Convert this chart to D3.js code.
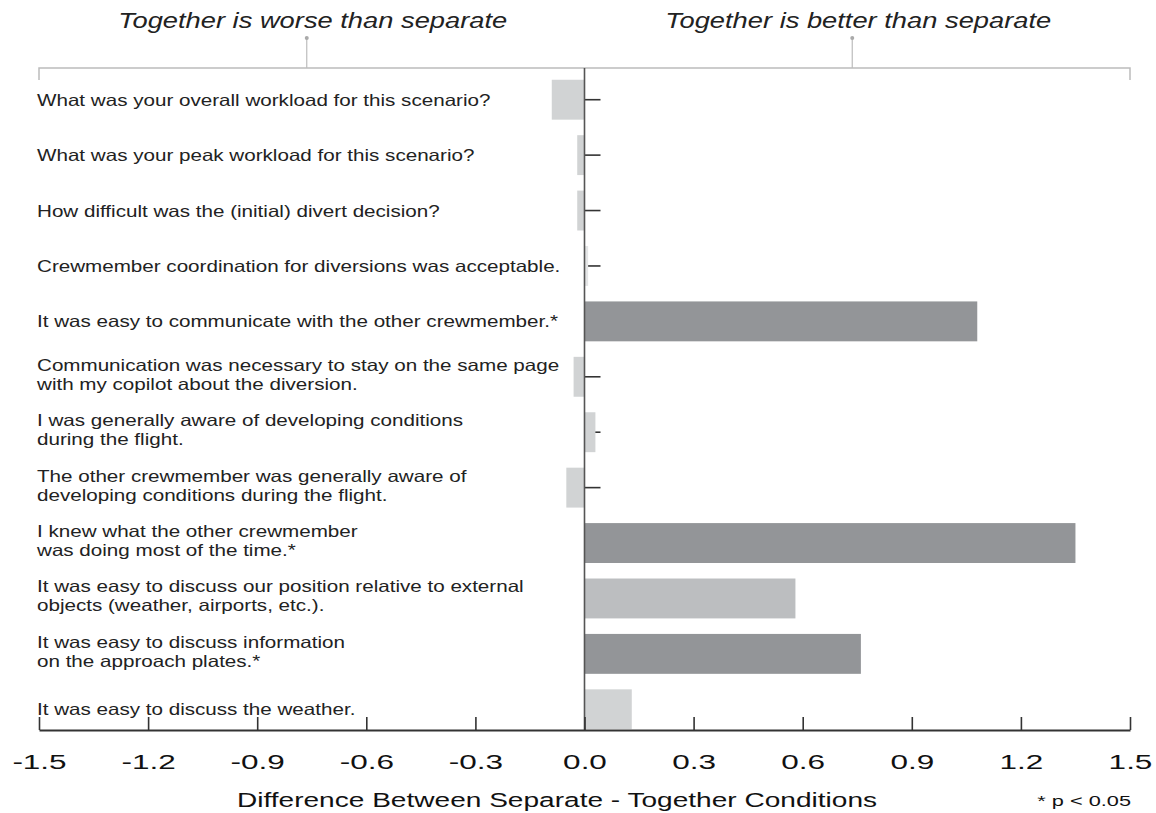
<!DOCTYPE html>
<html>
<head>
<meta charset="utf-8">
<script src="https://cdn.jsdelivr.net/npm/d3@7"></script>
<style>
  body { margin: 0; background: #fff; }
  text { font-family: "Liberation Sans", Arial, Helvetica, sans-serif; }
</style>
</head>
<body>
<div id="container"></div>
<script>
// questions, one per row (lines split where the chart wraps them)
let questions = [
    ['What was your overall workload for this scenario?'],
    ['What was your peak workload for this scenario?'],
    ['How difficult was the (initial) divert decision?'],
    ['Crewmember coordination for diversions was acceptable.'],
    ['It was easy to communicate with the other crewmember.*'],
    ['Communication was necessary to stay on the same page', 'with my copilot about the diversion.'],
    ['I was generally aware of developing conditions', 'during the flight.'],
    ['The other crewmember was generally aware of', 'developing conditions during the flight.'],
    ['I knew what the other crewmember', 'was doing most of the time.*'],
    ['It was easy to discuss our position relative to external', 'objects (weather, airports, etc.).'],
    ['It was easy to discuss information', 'on the approach plates.*'],
    ['It was easy to discuss the weather.']
];
let diffs = [-0.09, -0.02, -0.02, 0.01, 1.08, -0.03, 0.03, -0.05, 1.35, 0.58, 0.76, 0.13];
let significance = ['ns', 'ns', 'ns', 'faint', 'sig', 'ns', 'ns', 'ns', 'sig', 'marginal', 'sig', 'ns'];
let xTicks = [-1.5, -1.2, -0.9, -0.6, -0.3, 0.0, 0.3, 0.6, 0.9, 1.2, 1.5];
let sideLabels = ['Together is worse than separate', 'Together is better than separate'];

const width = 1156, height = 813;
const left = 39, right = 1130, bracketY = 68, axisY = 730;
const stretch = 1.25; // the original picture is drawn wide

const svg = d3.select('#container').append('svg').attr('width', width).attr('height', height);

const x = d3.scaleLinear().domain([-1.5, 1.5]).range([left, right]);
const y = d3.scaleBand().domain(d3.range(questions.length)).range([72, 737]).paddingInner(0.28).paddingOuter(0.14);
const fill = d3.scaleOrdinal().domain(['sig', 'marginal', 'ns', 'faint']).range(['#939598', '#bcbec0', '#d1d3d4', '#e4e5e6']);

// top bracket with the two side captions
svg.append('path')
    .attr('d', `M${left},${bracketY + 12}V${bracketY}H${right}V${bracketY + 12}`)
    .attr('fill', 'none').attr('stroke', '#bcbcbc').attr('stroke-width', 1.5);

let side = svg.selectAll('g.side')
    .data(sideLabels)
    .enter()
    .append('g')
    .attr('class', 'side')
    .attr('transform', (d, i) => `translate(${x(i === 0 ? -0.75 : 0.75)}, 0)`);

side.append('line').attr('x1', -5).attr('x2', -5).attr('y1', 38).attr('y2', bracketY).attr('stroke', '#bcbcbc').attr('stroke-width', 1.2);
side.append('circle').attr('cx', -5).attr('cy', 38).attr('r', 2).attr('fill', '#aaa');
side.append('text')
    .attr('transform', 'translate(1, 28) scale(1.27, 1)')
    .attr('text-anchor', 'middle')
    .style('font-size', '21.5px').style('font-style', 'italic').attr('fill', '#222')
    .text(d => d);

// row ticks to the right of zero (covered by the long bars)
svg.append('g')
    .attr('transform', `translate(${x(0)}, 0)`)
    .call(d3.axisRight(y).tickSize(16).tickFormat(''))
    .call(g => g.select('.domain').remove())
    .call(g => g.selectAll('line').attr('stroke', '#333').attr('stroke-width', 1.6));

// bars
svg.selectAll('rect.bar')
    .data(diffs)
    .enter()
    .append('rect')
    .attr('class', 'bar')
    .attr('x', d => x(Math.min(0, d)))
    .attr('y', (d, i) => y(i))
    .attr('width', d => Math.abs(x(d) - x(0)))
    .attr('height', y.bandwidth())
    .attr('fill', (d, i) => fill(significance[i]));

// zero line
svg.append('line')
    .attr('x1', x(0)).attr('x2', x(0))
    .attr('y1', bracketY).attr('y2', axisY)
    .attr('stroke', '#555').attr('stroke-width', 1.6);

// question labels
let label = svg.selectAll('text.q')
    .data(questions)
    .enter()
    .append('text')
    .attr('class', 'q')
    .attr('transform', `translate(37, 0) scale(${stretch}, 1)`)
    .attr('fill', '#222')
    .style('font-size', '16.5px');

label.each(function (lines, i) {
    const mid = y(i) + y.bandwidth() / 2;
    d3.select(this).selectAll('tspan')
        .data(lines)
        .enter()
        .append('tspan')
        .attr('x', 0)
        .attr('y', (t, j) => lines.length === 1 ? mid + 6 : mid - 6 + j * 19)
        .text(t => t);
});

// bottom axis
svg.append('g')
    .attr('transform', `translate(0, ${axisY})`)
    .call(d3.axisBottom(x).tickValues(xTicks).tickSizeInner(-13).tickSizeOuter(0).tickPadding(24).tickFormat(d => d.toFixed(1)))
    .call(g => g.select('.domain').attr('stroke', '#333').attr('stroke-width', 2))
    .call(g => g.selectAll('.tick line').attr('stroke', '#333').attr('stroke-width', 1.6))
    .call(g => g.selectAll('.tick text')
        .attr('fill', '#111')
        .attr('transform', 'scale(1.5, 1)')
        .style('font-size', '21px')
        .style('font-family', '"Liberation Sans", Arial, sans-serif'));

svg.append('text')
    .attr('transform', 'translate(557, 807) scale(1.44, 1)')
    .attr('text-anchor', 'middle')
    .attr('fill', '#111')
    .style('font-size', '19.5px')
    .text('Difference Between Separate - Together Conditions');

svg.append('text')
    .attr('transform', 'translate(1131, 806) scale(1.45, 1)')
    .attr('text-anchor', 'end')
    .attr('fill', '#111')
    .style('font-size', '15px')
    .text('* p < 0.05');
</script>
</body>
</html>
